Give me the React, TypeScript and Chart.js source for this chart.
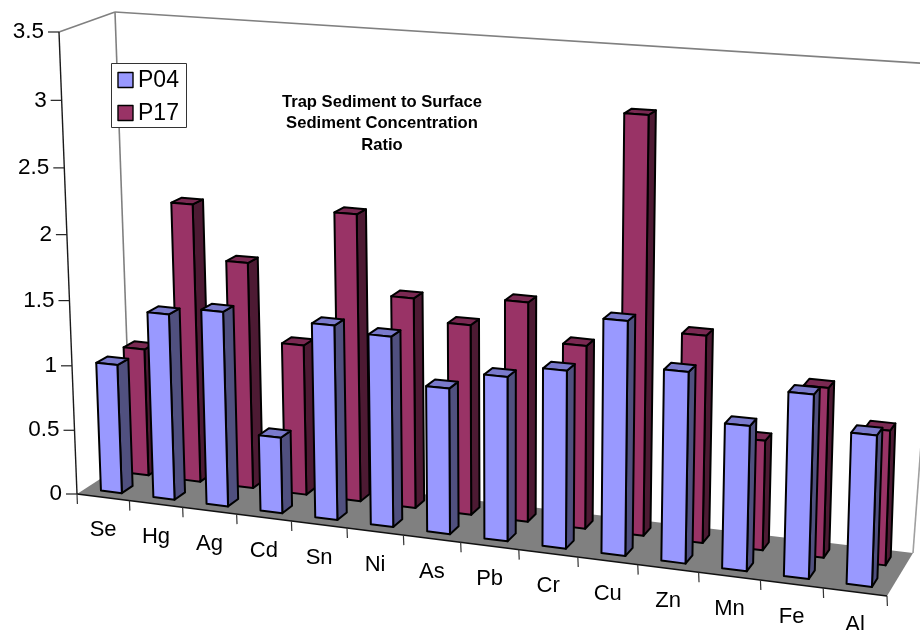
import React, { useEffect, useRef } from "react";
import { Chart, registerables } from "chart.js";

Chart.register(...registerables);

const categories = ["Se", "Hg", "Ag", "Cd", "Sn", "Ni", "As", "Pb", "Cr", "Cu", "Zn", "Mn", "Fe", "Al"];
const p04Values = [1.0, 1.43, 1.49, 0.58, 1.47, 1.43, 1.09, 1.22, 1.31, 1.71, 1.39, 1.05, 1.32, 1.08];
const p17Values = [1.0, 2.16, 1.75, 1.16, 2.19, 1.6, 1.44, 1.65, 1.37, 3.07, 1.53, 0.81, 1.24, 0.98];
const seriesNames = ["P04", "P17"];
const titleLines = ["Trap Sediment to Surface", "Sediment Concentration", "Ratio"];
const FONT = '"Liberation Sans", Arial, sans-serif';

// Frame corners of the 3D box on screen.
const A = [77, 494];
const B = [887, 596];
const C = [131, 459];
const D = [913, 553];
const E = [59, 32];
const F = [115, 12];
const G = [949, 65];
const WU = 0.9;
const WV = 1.039;
const WH = 0.96;

function project(u: number, v: number, h: number): [number, number] {
  const w = 1 + u * (WU - 1) + v * (WV - 1) + h * (WH - 1);
  const x = A[0] + u * (WU * B[0] - A[0]) + v * (WV * C[0] - A[0]) + h * (WH * E[0] - A[0]);
  const y = A[1] + u * (WU * B[1] - A[1]) + v * (WV * C[1] - A[1]) + h * (WH * E[1] - A[1]);
  return [x / w, y / w];
}

function poly(ctx: CanvasRenderingContext2D, pts: number[][], fill: string, stroke = "#000", lw = 2) {
  ctx.beginPath();
  pts.forEach((p, i) => (i ? ctx.lineTo(p[0], p[1]) : ctx.moveTo(p[0], p[1])));
  ctx.closePath();
  ctx.fillStyle = fill;
  ctx.fill();
  ctx.lineWidth = lw;
  ctx.strokeStyle = stroke;
  ctx.lineJoin = "round";
  ctx.stroke();
}

function line(ctx: CanvasRenderingContext2D, a: number[], b: number[], color: string, lw: number) {
  ctx.beginPath();
  ctx.moveTo(a[0], a[1]);
  ctx.lineTo(b[0], b[1]);
  ctx.strokeStyle = color;
  ctx.lineWidth = lw;
  ctx.stroke();
}

const faces = [
  { front: "#9999FF", side: "#50507F", top: "#7A7ACC", v0: 0.15, v1: 0.35 },
  { front: "#993366", side: "#4D1A33", top: "#7A2952", v0: 0.65, v1: 0.85 },
];

const box3d = {
  id: "box3d",
  beforeDatasetsDraw(chart: any) {
    const { ctx, chartArea: area, scales } = chart;
    const xs = scales.x;
    const ys = scales.y;
    const hOf = (py: number) => (area.bottom - py) / (area.bottom - area.top);
    const uOf = (px: number) => (px - area.left) / (area.right - area.left);

    ctx.save();
    ctx.fillStyle = "#fff";
    ctx.fillRect(0, 0, chart.width, chart.height);

    // Walls
    line(ctx, C, F, "#808080", 1.6);
    line(ctx, F, G, "#808080", 1.6);
    line(ctx, E, F, "#808080", 1.6);
    line(ctx, D, G, "#A0A0A0", 1.6);

    // Floor
    ctx.beginPath();
    [A, B, D, C].forEach((p, i) => (i ? ctx.lineTo(p[0], p[1]) : ctx.moveTo(p[0], p[1])));
    ctx.closePath();
    ctx.fillStyle = "#808080";
    ctx.fill();

    // Value axis
    line(ctx, E, A, "#1a1a1a", 1.4);
    ctx.font = `22.5px ${FONT}`;
    ctx.textAlign = "right";
    ctx.textBaseline = "middle";
    ys.ticks.forEach((t: any) => {
      const [px, py] = project(0, 0, hOf(ys.getPixelForValue(t.value)));
      line(ctx, [px - 11, py], [px, py], "#222", 1.2);
      ctx.fillStyle = "#000";
      ctx.fillText(t.label, px - 15, py);
    });

    // Category axis
    line(ctx, A, B, "#111", 1.6);
    const n = categories.length;
    for (let i = 0; i <= n; i++) {
      const edge = i === 0 ? area.left : i === n ? area.right : (xs.getPixelForValue(i - 1) + xs.getPixelForValue(i)) / 2;
      const [px, py] = project(uOf(edge), 0, 0);
      line(ctx, [px, py], [px + 0.4, py + 10], "#333", 1.2);
    }
    ctx.textAlign = "center";
    ctx.fillStyle = "#000";
    ctx.font = `22px ${FONT}`;
    categories.forEach((c, i) => {
      const [px, py] = project(uOf(xs.getPixelForValue(i)), 0, 0);
      ctx.fillText(c, px, py + 33);
    });

    // Bars, back row first
    [1, 0].forEach((ds) => {
      const meta = chart.getDatasetMeta(ds);
      const f = faces[ds];
      meta.data.forEach((el: any) => {
        const u0 = uOf(el.x - el.width / 2);
        const u1 = uOf(el.x + el.width / 2);
        const h = hOf(el.y);
        const { v0, v1 } = f;
        poly(ctx, [project(u1, v0, 0), project(u1, v1, 0), project(u1, v1, h), project(u1, v0, h)], f.side);
        poly(ctx, [project(u0, v0, h), project(u1, v0, h), project(u1, v1, h), project(u0, v1, h)], f.top);
        poly(ctx, [project(u0, v0, 0), project(u1, v0, 0), project(u1, v0, h), project(u0, v0, h)], f.front);
      });
    });

    // Title
    ctx.fillStyle = "#000";
    ctx.font = `bold 16.6px ${FONT}`;
    ctx.textAlign = "center";
    titleLines.forEach((t, i) => ctx.fillText(t, 382, 102 + i * 21.5));

    // Legend
    ctx.fillStyle = "#fff";
    ctx.fillRect(111, 63, 76, 65);
    ctx.strokeStyle = "#333";
    ctx.lineWidth = 1;
    ctx.strokeRect(111.5, 63.5, 75, 64);
    ctx.font = `23px ${FONT}`;
    ctx.textAlign = "left";
    seriesNames.forEach((s, i) => {
      const y = 72.5 + i * 33;
      ctx.fillStyle = faces[i].front;
      ctx.fillRect(118, y, 15, 15);
      ctx.strokeStyle = "#000";
      ctx.lineWidth = 1.4;
      ctx.strokeRect(118, y, 15, 15);
      ctx.fillStyle = "#000";
      ctx.fillText(s, 138, y + 8.5);
    });
    ctx.restore();
    return false;
  },
};

export default function App() {
  const ref = useRef<HTMLCanvasElement>(null);
  useEffect(() => {
    const chart = new Chart(ref.current!, {
      type: "bar",
      data: {
        labels: categories,
        datasets: [
          { label: seriesNames[0], data: p04Values, backgroundColor: faces[0].front },
          { label: seriesNames[1], data: p17Values, backgroundColor: faces[1].front },
        ],
      },
      options: {
        responsive: false,
        animation: false,
        layout: { padding: 0 },
        datasets: { bar: { grouped: false, categoryPercentage: 0.8, barPercentage: 0.5 } },
        plugins: { legend: { display: false }, title: { display: false }, tooltip: { enabled: false } },
        scales: {
          x: { display: false, type: "category" },
          y: {
            display: false,
            min: 0,
            max: 3.5,
            ticks: { stepSize: 0.5, callback: (v: any) => String(v) },
          },
        },
      },
      plugins: [box3d],
    } as any);
    return () => chart.destroy();
  }, []);
  return (
    <div style={{ position: "fixed", left: 0, top: 0, width: 920, height: 630, background: "#fff", overflow: "hidden" }}>
      <canvas ref={ref} width={920} height={630} style={{ display: "block" }} />
    </div>
  );
}
